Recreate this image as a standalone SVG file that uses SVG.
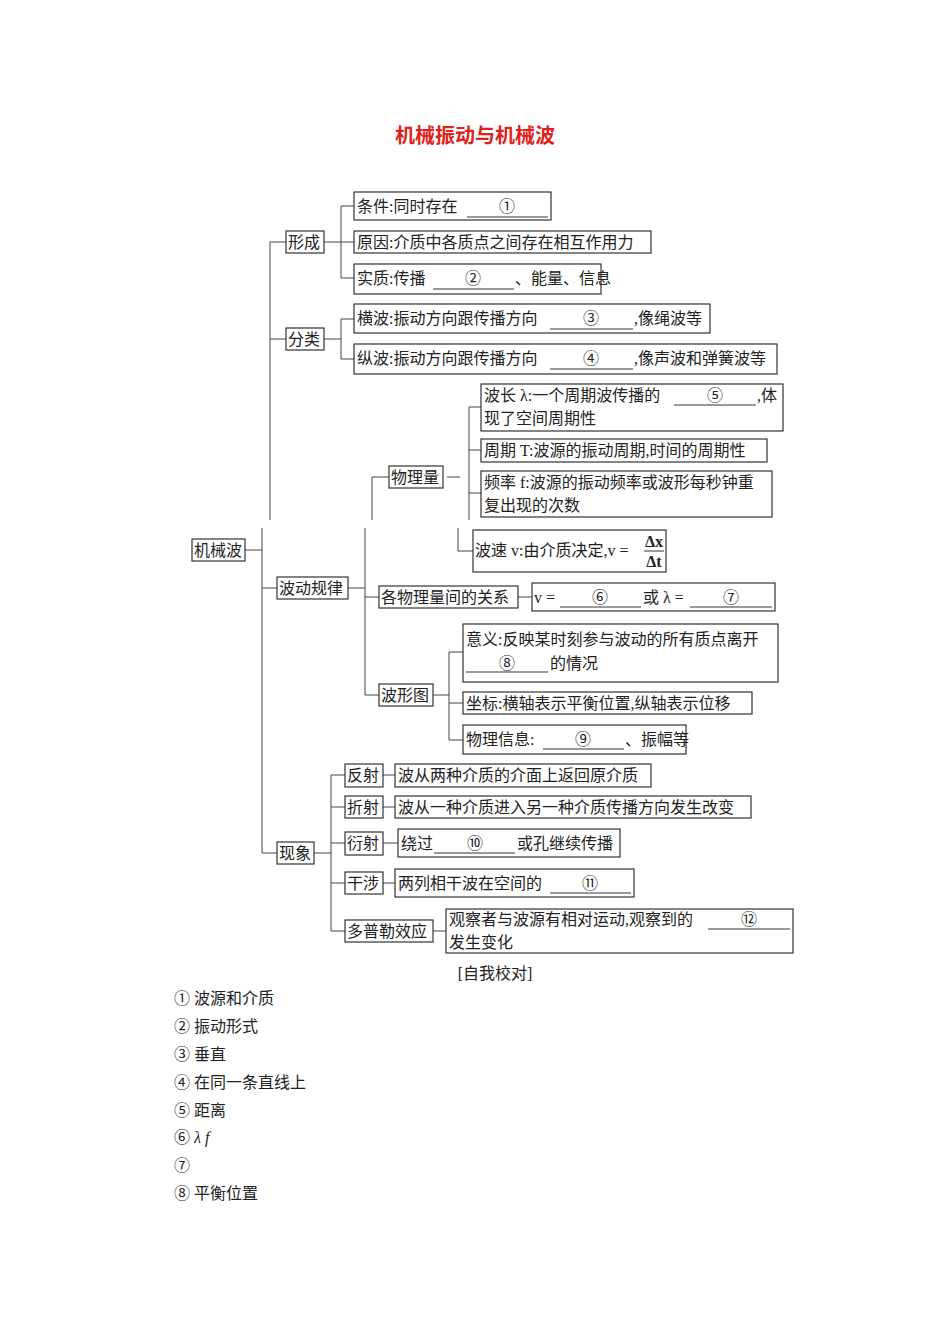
<svg xmlns="http://www.w3.org/2000/svg" width="950" height="1344" viewBox="0 0 950 1344">
<style>
text{font-family:"Liberation Serif","Noto Sans CJK SC",serif;font-size:16px;fill:#222}
.b rect{fill:#fff;stroke:#333;stroke-width:1.2}
.c line{stroke:#444;stroke-width:1}
.u{stroke:#333;stroke-width:1}
.t{font-size:20px;font-weight:bold;fill:#e0201a;font-family:"Noto Sans CJK SC",sans-serif}
</style>
<rect width="950" height="1344" fill="#fff"/>
<text class="t" x="475" y="143" text-anchor="middle">机械振动与机械波</text>
<g class="c" id="connectors">
<line x1="245" y1="550" x2="262" y2="550"/>
<line x1="262" y1="528" x2="262" y2="853"/>
<line x1="270" y1="242" x2="270" y2="520"/>
<line x1="270" y1="242" x2="286" y2="242"/>
<line x1="270" y1="339" x2="286" y2="339"/>
<line x1="324" y1="242" x2="354" y2="242"/>
<line x1="341" y1="206" x2="341" y2="278"/>
<line x1="341" y1="206" x2="354" y2="206"/>
<line x1="341" y1="278" x2="354" y2="278"/>
<line x1="324" y1="339" x2="341" y2="339"/>
<line x1="341" y1="319" x2="341" y2="359"/>
<line x1="341" y1="319" x2="354" y2="319"/>
<line x1="341" y1="359" x2="354" y2="359"/>
<line x1="372" y1="477" x2="372" y2="520"/>
<line x1="372" y1="477" x2="389" y2="477"/>
<line x1="447" y1="477" x2="460" y2="477"/>
<line x1="469" y1="407" x2="469" y2="520"/>
<line x1="469" y1="407" x2="481" y2="407"/>
<line x1="469" y1="450" x2="481" y2="450"/>
<line x1="469" y1="493" x2="481" y2="493"/>
<line x1="458" y1="528" x2="458" y2="551"/>
<line x1="458" y1="551" x2="473" y2="551"/>
<line x1="262" y1="588" x2="277" y2="588"/>
<line x1="348" y1="588" x2="365" y2="588"/>
<line x1="365" y1="528" x2="365" y2="695"/>
<line x1="365" y1="597" x2="379" y2="597"/>
<line x1="518" y1="597" x2="532" y2="597"/>
<line x1="365" y1="695" x2="379" y2="695"/>
<line x1="433" y1="695" x2="449" y2="695"/>
<line x1="449" y1="652" x2="449" y2="740"/>
<line x1="449" y1="652" x2="463" y2="652"/>
<line x1="449" y1="703" x2="463" y2="703"/>
<line x1="449" y1="740" x2="463" y2="740"/>
<line x1="262" y1="853" x2="277" y2="853"/>
<line x1="314" y1="853" x2="331" y2="853"/>
<line x1="331" y1="775" x2="331" y2="931"/>
<line x1="331" y1="775" x2="345" y2="775"/>
<line x1="331" y1="807" x2="345" y2="807"/>
<line x1="331" y1="843" x2="345" y2="843"/>
<line x1="331" y1="883" x2="345" y2="883"/>
<line x1="331" y1="931" x2="345" y2="931"/>
<line x1="383" y1="775" x2="395" y2="775"/>
<line x1="383" y1="807" x2="395" y2="807"/>
<line x1="383" y1="843" x2="398" y2="843"/>
<line x1="383" y1="883" x2="395" y2="883"/>
<line x1="433" y1="931" x2="446" y2="931"/>
</g>
<g class="b">
<g id="root"><rect x="192" y="539" width="53" height="22"/><text x="194" y="556">机械波</text></g>
<g id="xingcheng"><rect x="286" y="231" width="38" height="22"/><text x="288" y="248">形成</text></g>
<g id="tiaojian"><rect x="354" y="192" width="197" height="28"/><text x="357" y="212">条件:同时存在</text><line class="u" x1="467" y1="217" x2="548" y2="217"/><text x="507" y="212" text-anchor="middle">①</text></g>
<g id="yuanyin"><rect x="354" y="231" width="297" height="22"/><text x="357" y="248">原因:介质中各质点之间存在相互作用力</text></g>
<g id="shizhi"><rect x="354" y="264" width="247" height="30"/><text x="357" y="284">实质:传播</text><line class="u" x1="433" y1="289" x2="514" y2="289"/><text x="473" y="284" text-anchor="middle">②</text><text x="515" y="284">、能量、信息</text></g>
<g id="fenlei"><rect x="286" y="328" width="38" height="22"/><text x="288" y="345">分类</text></g>
<g id="hengbo"><rect x="354" y="304" width="356" height="29"/><text x="357" y="324">横波:振动方向跟传播方向</text><line class="u" x1="550" y1="329" x2="633" y2="329"/><text x="591" y="324" text-anchor="middle">③</text><text x="634" y="324">,像绳波等</text></g>
<g id="zongbo"><rect x="354" y="344" width="423" height="30"/><text x="357" y="364">纵波:振动方向跟传播方向</text><line class="u" x1="550" y1="369" x2="633" y2="369"/><text x="591" y="364" text-anchor="middle">④</text><text x="634" y="364">,像声波和弹簧波等</text></g>
<g id="wuliliang"><rect x="389" y="466" width="54" height="22"/><text x="391" y="483">物理量</text></g>
<g id="bochang"><rect x="481" y="384" width="302" height="47"/><text x="484" y="401">波长 λ:一个周期波传播的</text><line class="u" x1="674" y1="405" x2="756" y2="405"/><text x="715" y="401" text-anchor="middle">⑤</text><text x="757" y="401">,体</text><text x="484" y="424">现了空间周期性</text></g>
<g id="zhouqi"><rect x="481" y="439" width="286" height="23"/><text x="484" y="456">周期 T:波源的振动周期,时间的周期性</text></g>
<g id="pinlv"><rect x="481" y="471" width="291" height="46"/><text x="484" y="488">频率 f:波源的振动频率或波形每秒钟重</text><text x="484" y="511">复出现的次数</text></g>
<g id="bosu"><rect x="473" y="530" width="193" height="42"/><text x="475" y="556">波速 v:由介质决定,v =</text><text x="654" y="547" text-anchor="middle" font-size="14" font-weight="bold">Δx</text><line class="u" x1="644" y1="551" x2="664" y2="551"/><text x="654" y="567" text-anchor="middle" font-size="14" font-weight="bold">Δt</text></g>
<g id="bodong"><rect x="277" y="577" width="71" height="22"/><text x="279" y="594">波动规律</text></g>
<g id="guanxi"><rect x="379" y="586" width="139" height="22"/><text x="381" y="603">各物理量间的关系</text></g>
<g id="gongshi"><rect x="532" y="583" width="243" height="28"/><text x="534" y="603" font-size="14">v =</text><line class="u" x1="560" y1="607" x2="641" y2="607"/><text x="600" y="603" text-anchor="middle">⑥</text><text x="643" y="603">或 λ =</text><line class="u" x1="690" y1="607" x2="772" y2="607"/><text x="731" y="603" text-anchor="middle">⑦</text></g>
<g id="boxingtu"><rect x="379" y="684" width="54" height="22"/><text x="381" y="701">波形图</text></g>
<g id="yiyi"><rect x="463" y="624" width="315" height="58"/><text x="466" y="645">意义:反映某时刻参与波动的所有质点离开</text><line class="u" x1="466" y1="672" x2="548" y2="672"/><text x="507" y="669" text-anchor="middle">⑧</text><text x="550" y="669">的情况</text></g>
<g id="zuobiao"><rect x="463" y="692" width="289" height="22"/><text x="466" y="709">坐标:横轴表示平衡位置,纵轴表示位移</text></g>
<g id="xinxi"><rect x="463" y="725" width="223" height="29"/><text x="466" y="745">物理信息:</text><line class="u" x1="543" y1="749" x2="624" y2="749"/><text x="583" y="745" text-anchor="middle">⑨</text><text x="625" y="745">、振幅等</text></g>
<g id="xianxiang"><rect x="277" y="842" width="37" height="22"/><text x="279" y="859">现象</text></g>
<g id="fanshe"><rect x="345" y="764" width="38" height="23"/><text x="347" y="781">反射</text><rect x="395" y="764" width="256" height="23"/><text x="398" y="781">波从两种介质的介面上返回原介质</text></g>
<g id="zheshe"><rect x="345" y="796" width="38" height="22"/><text x="347" y="813">折射</text><rect x="395" y="796" width="356" height="22"/><text x="398" y="813">波从一种介质进入另一种介质传播方向发生改变</text></g>
<g id="yanshe"><rect x="345" y="832" width="38" height="23"/><text x="347" y="849">衍射</text><rect x="398" y="829" width="222" height="28"/><text x="401" y="849">绕过</text><line class="u" x1="434" y1="853" x2="515" y2="853"/><text x="475" y="849" text-anchor="middle">⑩</text><text x="517" y="849">或孔继续传播</text></g>
<g id="ganshe"><rect x="345" y="872" width="38" height="22"/><text x="347" y="889">干涉</text><rect x="395" y="869" width="239" height="28"/><text x="398" y="889">两列相干波在空间的</text><line class="u" x1="550" y1="893" x2="631" y2="893"/><text x="590" y="889" text-anchor="middle">⑪</text></g>
<g id="duopule"><rect x="345" y="920" width="88" height="22"/><text x="347" y="937">多普勒效应</text><rect x="446" y="909" width="347" height="44"/><text x="449" y="925">观察者与波源有相对运动,观察到的</text><line class="u" x1="708" y1="929" x2="790" y2="929"/><text x="749" y="925" text-anchor="middle">⑫</text><text x="449" y="948">发生变化</text></g>
</g>
<g id="answers">
<text x="495" y="979" text-anchor="middle">[自我校对]</text>
<text x="174" y="1004">① 波源和介质</text>
<text x="174" y="1032">② 振动形式</text>
<text x="174" y="1060">③ 垂直</text>
<text x="174" y="1088">④ 在同一条直线上</text>
<text x="174" y="1116">⑤ 距离</text>
<text x="174" y="1143">⑥ <tspan font-style="italic">λ f</tspan></text>
<text x="174" y="1171">⑦</text>
<text x="174" y="1199">⑧ 平衡位置</text>
</g>
</svg>
